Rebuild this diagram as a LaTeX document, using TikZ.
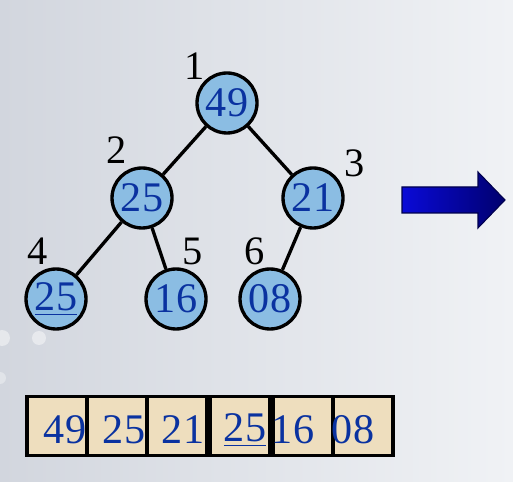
\documentclass[tikz,border=0pt]{standalone}
\usepackage{fontspec}
\setmainfont{Liberation Serif}
\usepackage{xcolor}
\definecolor{Fondo1}{RGB}{210,214,222}
\definecolor{Fondo2}{RGB}{240,242,245}
\definecolor{Nodo}{RGB}{139,189,227}
\definecolor{Cifra}{RGB}{10,50,160}
\definecolor{Papel}{RGB}{238,222,190}
\definecolor{Flecha1}{RGB}{10,10,215}
\definecolor{Flecha2}{RGB}{0,0,110}
\usetikzlibrary{positioning}

\begin{document}
\begin{tikzpicture}[
  x=0.02cm, y=-0.02cm,
  %% nodos del montículo
  heapnode/.style={
    circle, draw=black, fill=Nodo,
    line width=1.9pt, inner sep=0pt,
    minimum size=1.2cm,
    font=\fontsize{24}{24}\selectfont, text=Cifra
  },
  %% índice de cada nodo
  idx/.style={
    font=\fontsize{23}{23}\selectfont, text=black, inner sep=0pt
  },
  %% celdas del vector
  cell/.style={
    rectangle, draw=black, fill=Papel,
    line width=2.1pt, inner sep=0pt,
    minimum width=1.21cm, minimum height=1.18cm
  },
  celltext/.style={
    font=\fontsize{24}{24}\selectfont, text=Cifra, inner sep=0pt
  },
  edge/.style={line width=1.9pt, draw=black}
]

%% ── Fondo ──────────────────────────────────────────────────────────────────
\shade[left color=Fondo1, right color=Fondo2] (0,0) rectangle (513,482);
\useasboundingbox (0,0) rectangle (513,482);
\fill[white, opacity=0.45] (2,338) circle (8);
\fill[white, opacity=0.45] (39,338) circle (7);
\fill[white, opacity=0.35] (0,378) circle (6);

%% ── Árbol ──────────────────────────────────────────────────────────────────
\node[heapnode] (n1) at (227,103) {49};
\node[heapnode] (n2) at (142,198) {25};
\node[heapnode] (n3) at (313,198) {21};
\node[heapnode] (n4) at (56,299)  {\underline{25}};
\node[heapnode] (n5) at (176,299) {16};
\node[heapnode] (n6) at (270,299) {08};

%% índices
\node[idx] (i1) at (195,66)  {1};
\node[idx] (i2) at (117,150) {2};
\node[idx] (i3) at (355,163) {3};
\node[idx] (i4) at (38,251)  {4};
\node[idx] (i5) at (193,251) {5};
\node[idx] (i6) at (255,251) {6};

%% aristas
\draw[edge] (n1) -- (n2);
\draw[edge] (n1) -- (n3);
\draw[edge] (n2) -- (n4);
\draw[edge] (n2) -- (n5);
\draw[edge] (n3) -- (n6);

%% ── Flecha ─────────────────────────────────────────────────────────────────
\shade[left color=Flecha1, right color=Flecha2, draw=Flecha2!70!black,
       line width=0.6pt]
  (402,187) -- (478,187) -- (478,172) -- (505,200)
  -- (478,228) -- (478,213) -- (402,213) -- cycle;

%% ── Vector ─────────────────────────────────────────────────────────────────
\foreach \i/\cx in {1/57, 2/117, 3/177, 4/240, 5/303, 6/363} {
  \node[cell] (c\i) at (\cx,426) {};
}
\node[celltext] (v1) at (65,430)  {49};
\node[celltext] (v2) at (124,430) {25};
\node[celltext] (v3) at (183,430) {21};
\node[celltext] (v4) at (245,430) {\underline{25}};
\node[celltext] (v5) at (293,430) {16};
\node[celltext] (v6) at (353,430) {08};

\end{tikzpicture}
\end{document}
